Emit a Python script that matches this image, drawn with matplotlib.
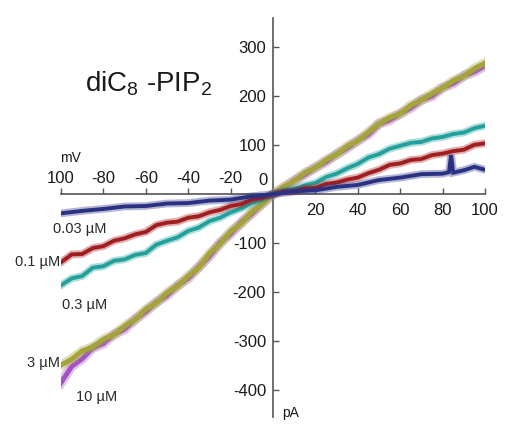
import matplotlib
matplotlib.use("Agg")
import matplotlib.pyplot as plt

plt.rcParams["font.family"] = ["Liberation Sans", "DejaVu Sans"]
plt.rcParams["mathtext.fontset"] = "custom"
plt.rcParams["mathtext.rm"] = "Liberation Sans"
plt.rcParams["mathtext.default"] = "regular"

# voltage steps (mV)
mv = [-100, -95, -90, -85, -80, -75, -70, -65, -60, -55, -50, -45, -40, -35, -30, -25, -20,
      -15, -10, -5, 0, 5, 10, 15, 20, 25, 30, 35, 40, 45, 50, 55, 60, 65, 70, 75, 80, 85,
      90, 95, 100]

# currents (pA)
pa_10 = [-385, -352, -336, -314, -305, -286, -276, -255, -240, -220, -207, -186, -172, -148,
         -127, -99, -81, -57, -40, -18, 0, 12, 28, 40, 55, 66, 82, 94, 110, 122, 144, 151,
         165, 176, 193, 200, 218, 226, 242, 250, 262]
pa_3 = [-349, -337, -320, -312, -296, -287, -269, -256, -235, -222, -201, -188, -167, -150,
        -121, -102, -76, -60, -36, -20, 0, 15, 27, 44, 54, 70, 81, 98, 109, 127, 144, 157,
        164, 182, 192, 206, 217, 232, 241, 257, 268]
pa_03 = [-186, -172, -167, -150, -147, -136, -133, -124, -120, -103, -95, -88, -75, -68, -55,
         -48, -37, -29, -18, -10, 0, 7, 11, 18, 23, 35, 42, 53, 62, 75, 82, 93, 99, 105, 107,
         114, 117, 123, 126, 135, 140]
pa_01 = [-139, -123, -122, -110, -106, -95, -90, -82, -77, -63, -58, -56, -48, -45, -37, -32,
         -24, -20, -11, -7, 0, 5, 6, 12, 13, 21, 24, 30, 34, 43, 50, 60, 63, 70, 72, 80, 83,
         88, 91, 101, 104]

# the 0.03 uM trace has a brief spike near +84 mV
mv_003 = [-100, -90, -80, -70, -60, -50, -40, -30, -20, -10, 0, 10, 20, 30, 40, 50, 60, 70,
          80, 83, 84, 85, 90, 95, 100]
pa_003 = [-39, -34, -30, -25, -24, -19, -18, -13, -11, -4, 0, 6, 8, 15, 19, 29, 34, 41, 42,
          45, 80, 44, 49, 56, 50]

series = [
    (mv, pa_10, "#a453c4", 3.5),
    (mv, pa_3, "#a3a43a", 3.5),
    (mv, pa_03, "#22a19b", 2.8),
    (mv, pa_01, "#a21d1f", 2.8),
    (mv_003, pa_003, "#2a3183", 2.8),
]

conc_labels = ["0.03 µM", "0.1 µM", "0.3 µM", "3 µM", "10 µM"]
conc_pos = [(-104, -71, "left"), (-100.5, -139, "right"), (-99.5, -227, "left"),
            (-100.5, -345, "right"), (-93, -414, "left")]

x_ticks = [-100, -80, -60, -40, -20, 20, 40, 60, 80, 100]
x_tick_labels = ["100", "-80", "-60", "-40", "-20", "20", "40", "60", "80", "100"]
y_ticks = [-400, -300, -200, -100, 100, 200, 300]

fig = plt.figure(figsize=(5.12, 4.26), dpi=100)
ax = fig.add_axes([61 / 512, 9 / 426, 424 / 512, 399 / 426])
ax.set_xlim(-100, 100)
ax.set_ylim(-455, 360)

for x, y, color, lw in series:
    # soft wide band under each trace for the recording noise
    ax.plot(x, y, color=color, linewidth=lw * 2, alpha=0.35, solid_joinstyle="miter")
    ax.plot(x, y, color=color, linewidth=lw, solid_joinstyle="miter")

for sp in ["top", "right"]:
    ax.spines[sp].set_visible(False)
for sp in ["left", "bottom"]:
    ax.spines[sp].set_position(("data", 0))
    ax.spines[sp].set_color("#555555")
    ax.spines[sp].set_linewidth(1.2)
    ax.spines[sp].set_zorder(0)

ax.set_xticks(x_ticks)
ax.set_xticklabels([])
ax.set_yticks(y_ticks)
ax.set_yticklabels([str(v) for v in y_ticks])
ax.tick_params(axis="x", direction="in", length=4, width=1, color="#555555")
ax.tick_params(axis="y", direction="in", length=4, width=1, color="#555555",
               labelsize=12, pad=5, labelcolor="#1a1a1a")

for v, lab in zip(x_ticks, x_tick_labels):
    dy = 11 if v < 0 else -11.5
    ax.annotate(lab, (v, 0), xytext=(0, dy), textcoords="offset points",
                ha="center", va="center", fontsize=12, color="#1a1a1a")

ax.text(-4.7, 28, "0", ha="center", va="center", fontsize=12, color="#1a1a1a")
ax.text(-100.5, 75, "mV", ha="left", va="center", fontsize=10, color="#1a1a1a")
ax.text(4.2, -447, "pA", ha="left", va="center", fontsize=10, color="#1a1a1a")

for lab, (x, y, ha) in zip(conc_labels, conc_pos):
    ax.text(x, y, lab, ha=ha, va="center", fontsize=10.5, color="#2a2a2a", clip_on=False)

fig.text(85 / 512, 1 - 84 / 426, r"diC$_8$ -PIP$_2$", fontsize=20, color="#1a1a1a",
         ha="left", va="center")

fig.savefig("out.png", dpi=100, facecolor="white")
